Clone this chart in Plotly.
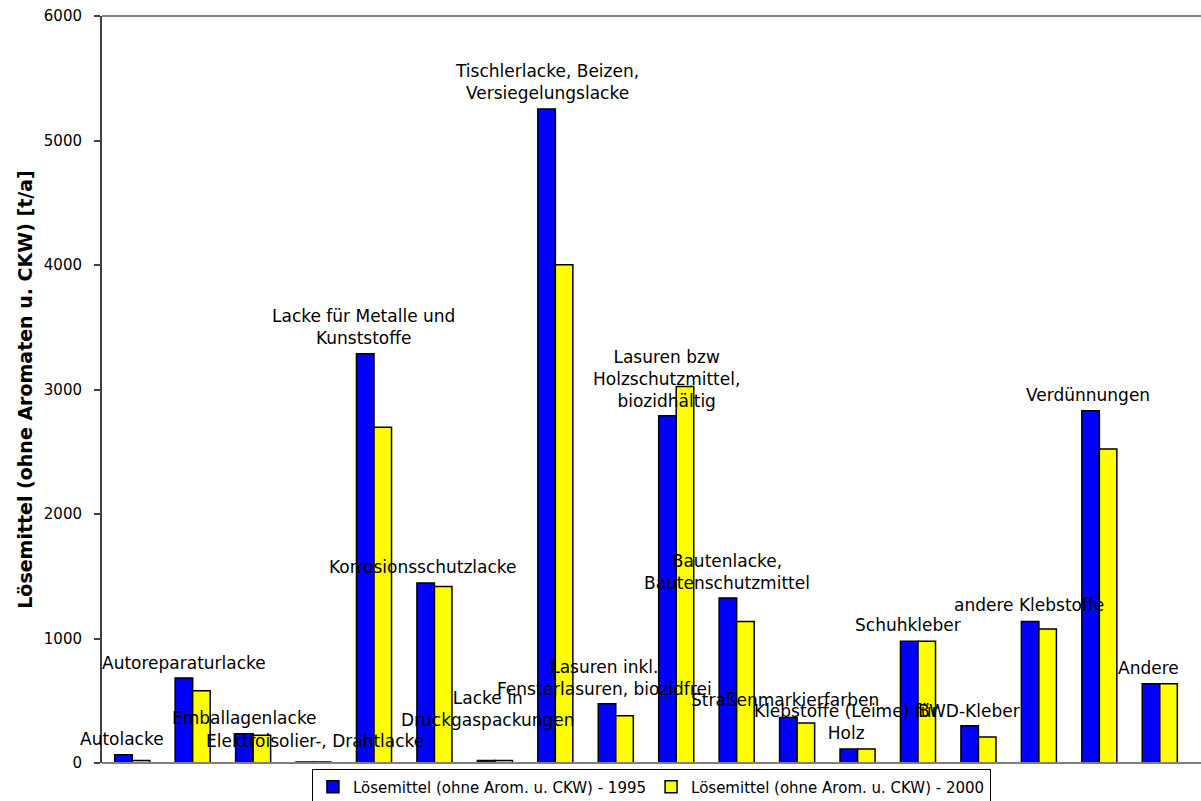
import plotly.graph_objects as go

# ---- data ----
CATEGORIES = [
    "Autolacke",
    "Autoreparaturlacke",
    "Emballagenlacke",
    "Elektroisolier-, Drahtlacke",
    "Lacke für Metalle und\nKunststoffe",
    "Korrosionsschutzlacke",
    "Lacke in\nDruckgaspackungen",
    "Tischlerlacke, Beizen,\nVersiegelungslacke",
    "Lasuren inkl.\nFensterlasuren, biozidfrei",
    "Lasuren bzw\nHolzschutzmittel,\nbiozidhältig",
    "Bautenlacke,\nBautenschutzmittel",
    "Straßenmarkierfarben",
    "Klebstoffe (Leime) für\nHolz",
    "Schuhkleber",
    "BWD-Kleber",
    "andere Klebstoffe",
    "Verdünnungen",
    "Andere",
]
VALUES_1995 = [67, 683, 235, 8, 3288, 1446, 21, 5253, 475, 2790, 1325, 366, 112, 977, 300, 1137, 2830, 637]
VALUES_2000 = [21, 581, 222, 8, 2697, 1418, 21, 4002, 380, 3025, 1137, 321, 112, 977, 209, 1076, 2522, 637]
SERIES_NAMES = ["Lösemittel (ohne Arom. u. CKW) - 1995", "Lösemittel (ohne Arom. u. CKW) - 2000"]
Y_TICKS = [0, 1000, 2000, 3000, 4000, 5000, 6000]
Y_TITLE = "Lösemittel (ohne Aromaten u. CKW) [t/a]"

# ---- label placement offsets (pixels), styling only ----
LABEL_DX = [-10, -9, -9, 1, -11, -11, -7, -8, -11, -10, -10, -12, -12, -10, -9, -10, -11, -11]
LABEL_DY = [4, 3, 4, 9, 4, 4, 28, 4, 3, 3, 3, 5, 4, 4, 3, 4, 4, 4]

x_keys = [c.replace("\n", " ") for c in CATEGORIES]

FONT = "DejaVu Sans"

fig = go.Figure()
fig.add_trace(go.Bar(
    x=x_keys, y=VALUES_1995, name=SERIES_NAMES[0],
    marker=dict(color="#0000FF", line=dict(color="#000000", width=1.5)),
))
fig.add_trace(go.Bar(
    x=x_keys, y=VALUES_2000, name=SERIES_NAMES[1],
    marker=dict(color="#FFFF00", line=dict(color="#000000", width=1.5)),
))

annotations = []
for i, (key, label) in enumerate(zip(x_keys, CATEGORIES)):
    annotations.append(dict(
        x=key, y=VALUES_1995[i], xref="x", yref="y",
        text=label.replace("\n", "<br>"),
        showarrow=False, xanchor="center", yanchor="bottom",
        xshift=LABEL_DX[i], yshift=LABEL_DY[i],
        font=dict(family=FONT, size=17, color="#000000"),
        align="center",
    ))

fig.update_layout(
    width=1201, height=801,
    margin=dict(l=102, r=11, t=16, b=38, autoexpand=False),
    paper_bgcolor="#FFFFFF", plot_bgcolor="#FFFFFF",
    barmode="group", bargap=0.42, bargroupgap=0.0,
    showlegend=True,
    legend=dict(
        orientation="h", x=0.505, xanchor="center", y=-0.032, yanchor="middle",
        bordercolor="#000000", borderwidth=1, bgcolor="#FFFFFF",
        font=dict(family=FONT, size=15, color="#000000"),
        itemwidth=30, tracegroupgap=0,
    ),
    annotations=annotations,
    font=dict(family=FONT, color="#000000"),
    xaxis=dict(
        type="category", range=[-0.5, len(x_keys) - 0.5], autorange=False,
        showticklabels=False, ticks="", showgrid=False,
        zeroline=False, showline=False,
    ),
    yaxis=dict(
        range=[0, 6000], tickvals=Y_TICKS, ticks="outside", ticklen=6,
        tickcolor="#404040", tickwidth=1.5,
        showline=True, linecolor="#404040", linewidth=2,
        showgrid=False, zeroline=False,
        tickfont=dict(family=FONT, size=15, color="#000000"),
        ticklabelstandoff=9,
        title=dict(text=Y_TITLE, font=dict(family=FONT, size=19, color="#000000", weight="bold"),
                   standoff=6),
    ),
    shapes=[
        dict(type="line", xref="paper", yref="paper", x0=0, x1=1.011, y0=1, y1=1,
             line=dict(color="#808080", width=2), layer="below"),
        dict(type="line", xref="paper", yref="paper", x0=0, x1=1.011, y0=0, y1=0,
             line=dict(color="#808080", width=2), layer="above"),
    ],
)

fig.write_html("out.html")
